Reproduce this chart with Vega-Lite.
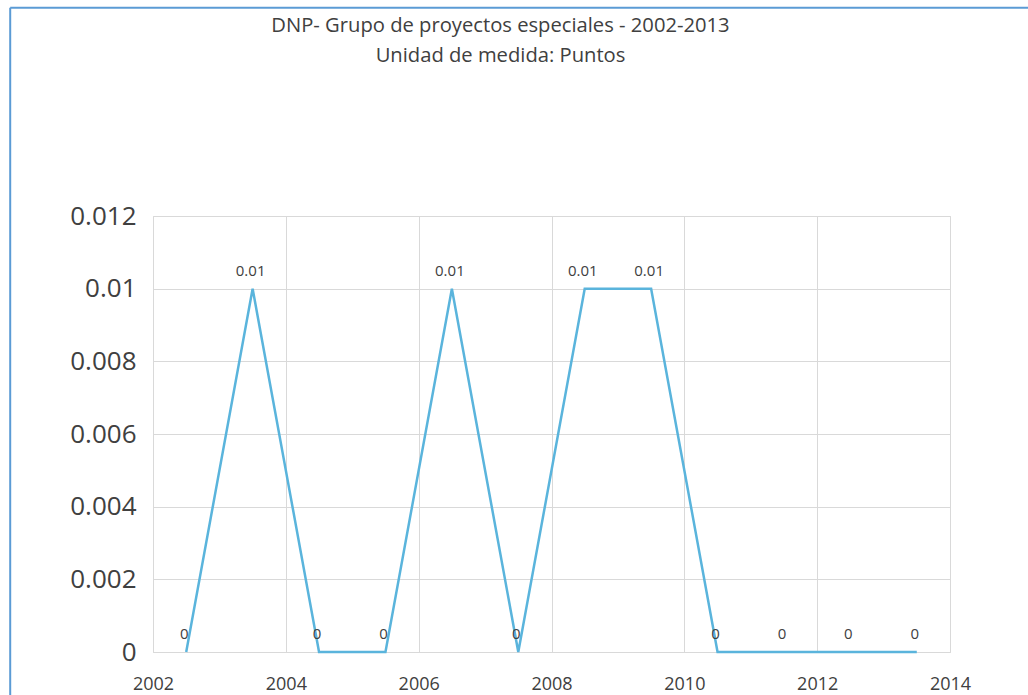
{
  "$schema": "https://vega.github.io/schema/vega-lite/v6.json",
  "autosize": "none",
  "width": 797,
  "height": 436,
  "padding": {"left": 153, "top": 216, "right": 78, "bottom": 43},
  "background": "white",
  "config": {
    "font": "Open Sans",
    "view": {"stroke": "#d9d9d9", "strokeWidth": 1},
    "axis": {"gridColor": "#d9d9d9", "domain": false, "ticks": false, "labelColor": "#404040"}
  },
  "title": {
    "text": ["DNP- Grupo de proyectos especiales - 2002-2013", "Unidad de medida: Puntos"],
    "fontSize": 20.2,
    "fontWeight": "normal",
    "color": "#404040",
    "lineHeight": 30,
    "anchor": "middle",
    "frame": "group",
    "dx": -51,
    "offset": -59
  },
  "datasets": {
    "series": [
      {"year": 2002.5, "value": 0},
      {"year": 2003.5, "value": 0.01},
      {"year": 2004.5, "value": 0},
      {"year": 2005.5, "value": 0},
      {"year": 2006.5, "value": 0.01},
      {"year": 2007.5, "value": 0},
      {"year": 2008.5, "value": 0.01},
      {"year": 2009.5, "value": 0.01},
      {"year": 2010.5, "value": 0},
      {"year": 2011.5, "value": 0},
      {"year": 2012.5, "value": 0},
      {"year": 2013.5, "value": 0}
    ],
    "frame": [
      {"x1": 1999.85, "x2": 1999.85, "y1": 0.01773, "y2": -0.003},
      {"x1": 1999.85, "x2": 2016.5, "y1": 0.01773, "y2": 0.01773}
    ]
  },
  "data": {"name": "series"},
  "encoding": {
    "x": {
      "field": "year", "type": "quantitative",
      "scale": {"domain": [2002, 2014], "nice": false, "zero": false},
      "axis": {"title": null, "values": [2002, 2004, 2006, 2008, 2010, 2012, 2014], "format": "d", "labelFontSize": 18, "labelPadding": 23, "labelFlush": false}
    },
    "y": {
      "field": "value", "type": "quantitative",
      "scale": {"domain": [0, 0.012], "nice": false},
      "axis": {"title": null, "values": [0, 0.002, 0.004, 0.006, 0.008, 0.01, 0.012], "format": "~g", "labelFontSize": 26, "labelPadding": 17}
    }
  },
  "layer": [
    {"mark": {"type": "line", "color": "#5ab4dc", "strokeWidth": 2.5}},
    {
      "mark": {"type": "text", "fontSize": 15, "color": "#404040", "dy": -18, "dx": -2},
      "encoding": {"text": {"field": "value", "type": "quantitative", "format": "~g"}}
    },
    {
      "data": {"name": "frame"},
      "mark": {"type": "rule", "color": "#5b9bd5", "strokeWidth": 2, "clip": false},
      "encoding": {
        "x": {"field": "x1", "type": "quantitative"},
        "x2": {"field": "x2"},
        "y": {"field": "y1", "type": "quantitative"},
        "y2": {"field": "y2"}
      }
    }
  ]
}
